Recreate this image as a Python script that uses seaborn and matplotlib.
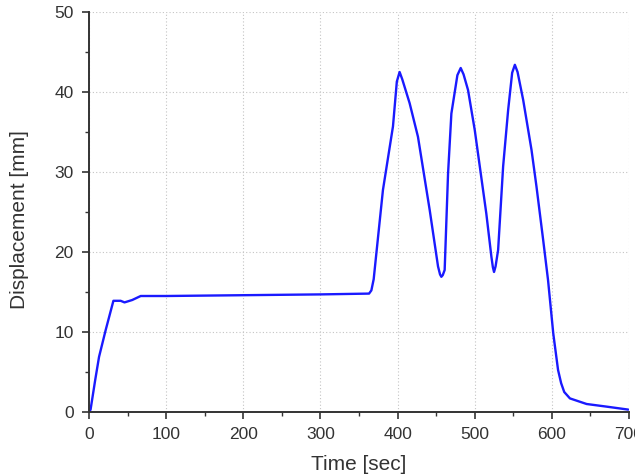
import matplotlib
matplotlib.use("Agg")
import matplotlib.pyplot as plt
import seaborn as sns
import pandas as pd
from matplotlib.ticker import MultipleLocator

time_sec = [0, 2, 8, 13, 21.6, 31.6, 41, 46, 56, 67, 100, 200, 300, 363,
            366, 369, 372, 381, 394, 399, 402.6, 406, 415.6, 426.4, 441.6,
            452.4, 455, 456.7, 458.5, 461, 465.4, 469.7, 477.5, 481.8, 485.5,
            491.3, 500, 515, 521.6, 523.5, 525, 527, 530.3, 536.8, 543.3,
            548.5, 552, 555.5, 562.8, 573.6, 580, 588.7, 595, 601.8, 608,
            612, 616, 623.4, 645, 671, 699]
displacement_mm = [0, 0.3, 4.0, 6.9, 10.25, 13.9, 13.9, 13.7, 14.0, 14.5, 14.5,
                   14.6, 14.7, 14.8, 15.2, 16.6, 19.4, 27.75, 35.7, 41.3, 42.5,
                   41.6, 38.6, 34.4, 25.25, 18.2, 17.2, 16.9, 17.1, 17.75,
                   29.8, 37.3, 42.1, 43.0, 42.2, 40.25, 35.25, 24.8, 19.4,
                   18.1, 17.5, 18.2, 20.25, 30.7, 37.75, 42.4, 43.4, 42.5,
                   39.0, 32.75, 28.2, 21.5, 16.5, 9.8, 5.25, 3.6, 2.5, 1.7,
                   1.0, 0.67, 0.3]

df = pd.DataFrame({"t": time_sec, "d": displacement_mm})

sns.set_style("ticks")
plt.rcParams["font.family"] = ["Liberation Sans", "DejaVu Sans"]

fig = plt.figure(figsize=(6.35, 4.74), dpi=100)
ax = fig.add_axes([0.1402, 0.1308, 0.8504, 0.8439])

sns.lineplot(data=df, x="t", y="d", ax=ax, color="#1a1aff", linewidth=1.7,
             sort=False)

ax.set_xlim(0, 700)
ax.set_ylim(0, 50)
ax.xaxis.set_major_locator(MultipleLocator(100))
ax.xaxis.set_minor_locator(MultipleLocator(50))
ax.yaxis.set_major_locator(MultipleLocator(10))
ax.yaxis.set_minor_locator(MultipleLocator(5))

ax.grid(True, which="major", linestyle=(0, (1, 2)), color="#c4c4c4",
        linewidth=0.8)
for s in ["top", "right"]:
    ax.spines[s].set_visible(False)
for s in ["left", "bottom"]:
    ax.spines[s].set_color("#333333")
    ax.spines[s].set_linewidth(1.4)

ax.tick_params(which="major", direction="out", length=5, width=1.2,
               color="#333333", labelsize=12.5, labelcolor="#333333", pad=6)
ax.tick_params(which="minor", direction="out", length=3, width=1.0,
               color="#333333")

ax.set_xlabel("Time [sec]", fontsize=15, color="#333333")
ax.set_ylabel("Displacement [mm]", fontsize=15, color="#333333")
ax.xaxis.set_label_coords(0.5, -0.108)
ax.yaxis.set_label_coords(-0.112, 0.48)

fig.savefig("out.png", dpi=100)
